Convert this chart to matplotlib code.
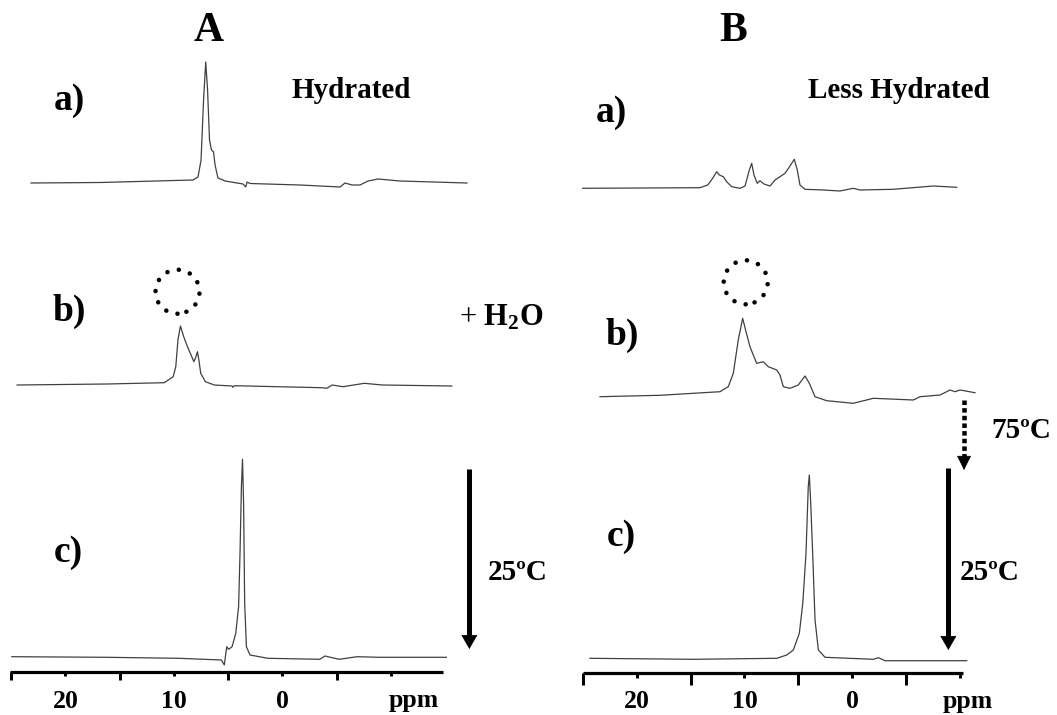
import matplotlib
matplotlib.use("Agg")
import matplotlib.pyplot as plt
from matplotlib.patches import Ellipse

plt.rcParams['font.family'] = ['Liberation Serif', 'DejaVu Serif']
plt.rcParams['mathtext.fontset'] = 'custom'
plt.rcParams['mathtext.rm'] = 'Liberation Serif'
plt.rcParams['mathtext.bf'] = 'Liberation Serif:bold'

# ---------------- data (ppm, intensity in a.u.) ----------------
# Panel A - Hydrated
A_a_ppm = [23.16, 16.80, 8.23, 7.77, 7.49, 7.26, 7.06, 6.89, 6.71, 6.53, 6.34, 6.20, 5.93, 5.28,
           3.62, 3.37, 3.25, 2.98, -1.63, -5.32, -5.78, -6.42, -7.16, -7.90, -8.82, -10.85, -17.02]
A_a_int = [0, 0.5, 3, 6, 23, 83, 121, 93, 43, 33, 31, 18, 5, 2,
           -1, -4, 1, -0.5, -2, -4, 0, -2, -2, 2, 4, 2, 0]

A_b_ppm = [24.44, 16.15, 10.88, 10.06, 9.82, 9.62, 9.39, 9.07, 8.74, 8.41, 8.15, 7.98, 7.82, 7.69,
           7.52, 7.09, 6.27, 4.63, 4.55, 4.42, -3.60, -4.10, -4.59, -5.59, -7.56, -9.20, -15.62]
A_b_int = [0, 1, 2.3, 8.3, 18.3, 45, 59, 47.7, 38.3, 30, 23.3, 27.7, 33.3, 25,
           11.7, 3.3, 0, -1, -2.3, -0.7, -2.7, -3.3, 0, -1.7, 1.7, 0, -1]

A_c_ppm = [24.93, 16.15, 9.56, 5.61, 5.35, 5.12, 4.95, 4.63, 4.29, 4.03, 3.90, 3.77, 3.67, 3.57,
           3.47, 3.31, 2.98, 1.33, -3.44, -3.94, -4.43, -5.25, -6.89, -8.88, -15.12]
A_c_int = [0.3, -0.3, -1.3, -3, -8, 10.3, 7.7, 10.3, 23.7, 50.3, 103.7, 170.3, 197.7, 153.7,
           53.7, 10.3, 2, -1.3, -2.3, 1, -0.3, -2.3, 0.3, -0.3, -0.3]

# Panel B - Less Hydrated
B_a_ppm = [25.05, 14.14, 13.42, 12.96, 12.59, 12.34, 11.97, 11.66, 11.19, 10.42, 9.95, 9.55, 9.33,
           9.12, 8.81, 8.56, 8.19, 7.63, 7.16, 6.70, 6.23, 5.77, 5.37, 5.09, 4.84, 4.37, 2.67, 1.12,
           -0.12, -0.74, -3.84, -7.56, -9.74]
B_a_int = [-0.3, 0.3, 3, 9.7, 16.3, 13, 11.3, 6.3, 1.3, -0.3, 2, 18, 24.7,
           13, 4.7, 7.3, 4, 2, 8, 11.3, 14.7, 22, 28.7, 18, 3, -1.3, -2, -3,
           -0.3, -2, -1.3, 2, 0.7]

B_b_ppm = [23.44, 17.86, 12.28, 11.51, 11.04, 10.58, 10.17, 9.86, 9.49, 8.87, 8.25, 7.79, 7.00,
           6.70, 6.39, 5.77, 5.00, 4.37, 3.97, 3.44, 2.35, -0.12, -1.98, -5.70, -6.33, -8.19, -9.12,
           -9.58, -10.05, -11.44]
B_b_int = [-1.7, -0.3, 3.3, 8.3, 21.7, 55, 76.7, 63.3, 48.3, 31.7, 33.3, 28.3, 25,
           20, 8.3, 6.7, 10, 19, 11.7, -1.7, -5.7, -8.3, -3.3, -5, -1.7, 0, 5,
           3.3, 5, 2.3]

B_c_ppm = [24.37, 14.76, 7.00, 6.07, 5.46, 4.90, 4.58, 4.28, 4.07, 3.97, 3.84, 3.66, 3.44, 3.13,
           2.51, -1.98, -2.45, -3.07, -10.67]
B_c_int = [0.7, -0.3, 0.7, 4, 9, 25.7, 55.7, 105.7, 172.3, 184, 155.7, 105.7, 39, 9,
           1.7, -0.3, 1.3, -1.7, -1.7]

major_ticks = [25, 15, 5, -5]
labeled_ticks = [20, 10, 0, -10]
tick_labels = ['20', '10', '0', '']
trace_labels = ['a)', 'b)', 'c)']

# ---------------- layout ----------------
W, H, DPI = 1057, 715, 100
PT = 72.0 / DPI   # points per pixel
LINE_COLOR = '#404040'

fig = plt.figure(figsize=(W / DPI, H / DPI), dpi=DPI)
fig.patch.set_facecolor('white')


def fx(px):
    return px / W


def fy(py):
    return 1 - py / H


def make_axes(left, right, axis_y, xlim, long_px, short_px, pad_px):
    ax = fig.add_axes([left / W, (H - axis_y) / H, (right - left) / W, axis_y / H])
    ax.set_xlim(*xlim)
    ax.set_ylim(0, axis_y)
    ax.patch.set_visible(False)
    for s in ['top', 'left', 'right']:
        ax.spines[s].set_visible(False)
    ax.spines['bottom'].set_linewidth(3.2 * PT)
    ax.spines['bottom'].set_capstyle('butt')
    ax.set_yticks([])
    ax.set_xticks(major_ticks, labels=[''] * len(major_ticks))
    ax.set_xticks(labeled_ticks, labels=tick_labels, minor=True)
    ax.tick_params(axis='x', which='major', length=long_px * PT, width=3 * PT,
                   direction='out', color='black')
    ax.tick_params(axis='x', which='minor', length=short_px * PT, width=3 * PT,
                   direction='out', color='black', pad=pad_px * PT, labelsize=18.5)
    for lab in ax.get_xticklabels(minor=True):
        lab.set_fontweight('bold')
        lab.set_va('baseline')
    return ax


axA = make_axes(10.1, 442.9, 671.7, (25.09, -14.80), 7.5, 4.3, 31.5)
axB = make_axes(583.0, 963.3, 673.3, (25.02, -10.35), 12.0, 5.3, 29.6)

offsets_A = [488.7, 286.7, 14.7]
offsets_B = [485.3, 278.3, 14.3]

for ppm, inten, off in zip([A_a_ppm, A_b_ppm, A_c_ppm], [A_a_int, A_b_int, A_c_int], offsets_A):
    axA.plot(ppm, [off + v for v in inten], color=LINE_COLOR, lw=0.9, clip_on=False)
for ppm, inten, off in zip([B_a_ppm, B_b_ppm, B_c_ppm], [B_a_int, B_b_int, B_c_int], offsets_B):
    axB.plot(ppm, [off + v for v in inten], color=LINE_COLOR, lw=0.9, clip_on=False)

# dotted circles above the highlighted peaks
R = 22
for ax, cx, cy, ppx in [(axA, 9.66, 380.0, 10.85), (axB, 9.89, 391.0, 10.75)]:
    e = Ellipse((cx, cy), width=2 * R / ppx, height=2 * R, fill=False, edgecolor='black',
                lw=3.3, linestyle=(0, (0.01, 2.55)), capstyle='round', clip_on=False)
    ax.add_patch(e)


def solid_arrow(ax, x, top, tip, head_px=13):
    ax.plot([x, x], [top, tip + head_px - 3], color='black', lw=5 * PT,
            solid_capstyle='butt', clip_on=False)
    ax.annotate('', xy=(x, tip), xytext=(x, tip + head_px), annotation_clip=False,
                arrowprops=dict(arrowstyle='-|>,head_length=%.3f,head_width=%.3f'
                                % (head_px * PT / 20, 7.5 * PT / 20),
                                mutation_scale=20, lw=0.5, color='black',
                                shrinkA=0, shrinkB=0))


def dotted_arrow(ax, x, top, tip, head_px=13):
    ax.plot([x, x], [top, tip + head_px], color='black', lw=4.5 * PT,
            linestyle=(0, (1.0, 0.7)), dash_capstyle='butt', clip_on=False)
    ax.annotate('', xy=(x, tip), xytext=(x, tip + head_px), annotation_clip=False,
                arrowprops=dict(arrowstyle='-|>,head_length=%.3f,head_width=%.3f'
                                % (head_px * PT / 20, 6.5 * PT / 20),
                                mutation_scale=20, lw=0.5, color='black',
                                shrinkA=0, shrinkB=0))


solid_arrow(axA, -17.24, 202.7, 22.7)
solid_arrow(axB, -8.96, 205.0, 23.3)
dotted_arrow(axB, -10.42, 273.3, 203.3)

# ---------------- texts ----------------
bold = dict(fontweight='bold', color='black')
fig.text(fx(209), fy(31), 'A', ha='center', va='center', fontsize=30, **bold)
fig.text(fx(733), fy(31), 'B', ha='center', va='center', fontsize=30, **bold)
fig.text(fx(351), fy(91), 'Hydrated', ha='center', va='center', fontsize=21, **bold)
fig.text(fx(899), fy(90), 'Less Hydrated', ha='center', va='center', fontsize=21, **bold)

for lab, (x, y) in zip(trace_labels, [(69, 100), (68.8, 311), (67.9, 552)]):
    fig.text(fx(x), fy(y), lab, ha='center', va='center', fontsize=27, **bold)
for lab, (x, y) in zip(trace_labels, [(611, 112), (621.7, 335), (621, 537)]):
    fig.text(fx(x), fy(y), lab, ha='center', va='center', fontsize=27, **bold)

fig.text(fx(459), fy(325), r'+ $\mathbf{H_2O}$', ha='left', va='baseline', fontsize=22,
         color='black')
fig.text(fx(518), fy(572), '25ºC', ha='center', va='center', fontsize=21, **bold)
fig.text(fx(990), fy(572), '25ºC', ha='center', va='center', fontsize=21, **bold)
fig.text(fx(1021), fy(431), '75ºC', ha='center', va='center', fontsize=21, **bold)

fig.text(fx(414), fy(707), 'ppm', ha='center', va='baseline', fontsize=18.5, **bold)
fig.text(fx(968), fy(708), 'ppm', ha='center', va='baseline', fontsize=18.5, **bold)

fig.savefig('out.png', dpi=DPI, facecolor='white')
